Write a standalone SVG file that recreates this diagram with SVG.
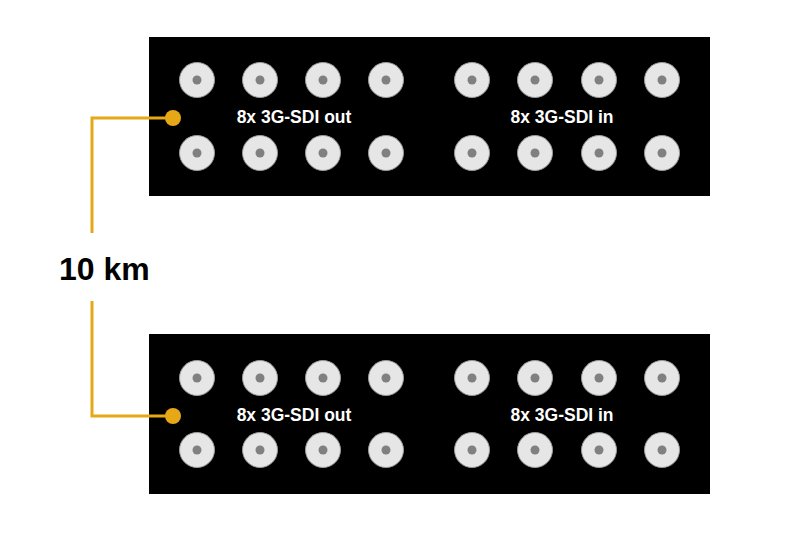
<svg xmlns="http://www.w3.org/2000/svg" width="800" height="533" viewBox="0 0 800 533">
<style>
.panel{fill:#000}
.bnc{fill:#e6e6e6;stroke:#9a9a9a;stroke-width:1}
.pin{fill:#808080}
.lbl{font-family:"Liberation Sans",Arial,sans-serif;font-weight:bold;font-size:17.5px;fill:#fff;text-anchor:middle}
.wire{fill:none;stroke:#e6a817;stroke-width:3}
.dot{fill:#e6a817}
.dist{font-family:"Liberation Sans",Arial,sans-serif;font-weight:bold;font-size:32px;fill:#000}
</style>
<defs>
<g id="b"><circle class="bnc" r="17.5"/><circle class="pin" r="4.5"/></g>
</defs>
<rect width="800" height="533" fill="#fff"/>
<g id="panel-top">
<rect class="panel" x="149" y="37" width="561" height="159"/>
<use href="#b" x="197" y="80"/><use href="#b" x="260" y="80"/><use href="#b" x="323" y="80"/><use href="#b" x="386" y="80"/>
<use href="#b" x="472" y="80"/><use href="#b" x="535" y="80"/><use href="#b" x="599" y="80"/><use href="#b" x="662" y="80"/>
<use href="#b" x="197" y="153"/><use href="#b" x="260" y="153"/><use href="#b" x="323" y="153"/><use href="#b" x="386" y="153"/>
<use href="#b" x="472" y="153"/><use href="#b" x="535" y="153"/><use href="#b" x="599" y="153"/><use href="#b" x="662" y="153"/>
<text class="lbl" x="294" y="123">8x 3G-SDI out</text>
<text class="lbl" x="562" y="123">8x 3G-SDI in</text>
<circle class="dot" cx="173" cy="118" r="8"/>
</g>
<g id="panel-bottom">
<rect class="panel" x="149" y="334" width="561" height="160"/>
<use href="#b" x="197" y="378"/><use href="#b" x="260" y="378"/><use href="#b" x="323" y="378"/><use href="#b" x="386" y="378"/>
<use href="#b" x="472" y="378"/><use href="#b" x="535" y="378"/><use href="#b" x="599" y="378"/><use href="#b" x="662" y="378"/>
<use href="#b" x="197" y="450"/><use href="#b" x="260" y="450"/><use href="#b" x="323" y="450"/><use href="#b" x="386" y="450"/>
<use href="#b" x="472" y="450"/><use href="#b" x="535" y="450"/><use href="#b" x="599" y="450"/><use href="#b" x="662" y="450"/>
<text class="lbl" x="294" y="421">8x 3G-SDI out</text>
<text class="lbl" x="562" y="421">8x 3G-SDI in</text>
<circle class="dot" cx="173" cy="416" r="8"/>
</g>
<g id="connectors">
<polyline class="wire" points="173,118 92,118 92,233"/>
<polyline class="wire" points="92,301 92,416 173,416"/>
</g>
<g id="distance-label">
<text class="dist" x="59" y="280">10 km</text>
</g>
</svg>
